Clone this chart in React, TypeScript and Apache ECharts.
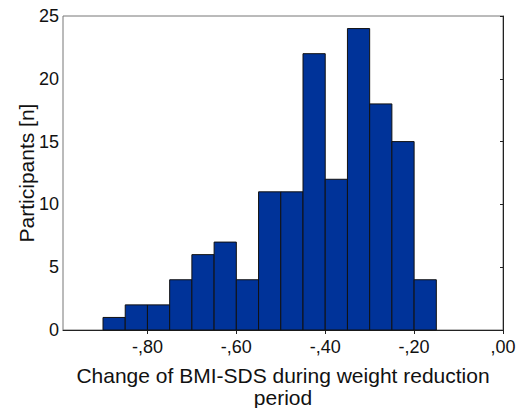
import React, { useEffect, useRef } from "react";
import * as echarts from "echarts";

const binStarts = [-0.9, -0.85, -0.8, -0.75, -0.7, -0.65, -0.6, -0.55, -0.5, -0.45, -0.4, -0.35, -0.3, -0.25, -0.2];
const binWidth = 0.05;
const counts = [1, 2, 2, 4, 6, 7, 4, 11, 11, 22, 12, 24, 18, 15, 4];
const xTickValues = [-0.8, -0.6, -0.4, -0.2, 0];

const fmt = (v: number) => {
  const s = Math.abs(v).toFixed(2).replace("0.", ",");
  return v < -1e-9 ? "-" + s : s;
};

export default function App() {
  const ref = useRef<HTMLDivElement>(null);
  useEffect(() => {
    if (!ref.current) return;
    document.body.style.margin = "0";
    const chart = echarts.init(ref.current, null, { renderer: "svg" });
    const data = binStarts.map((s, i) => [s, s + binWidth, counts[i]]);
    const font = "'Liberation Sans', Arial, sans-serif";
    chart.setOption({
      animation: false,
      grid: {
        left: 63,
        right: 16,
        top: 16,
        bottom: 78,
        containLabel: false,
        outerBoundsMode: "none",
        show: true,
        borderColor: "#777",
        borderWidth: 1,
        backgroundColor: "transparent",
      },
      xAxis: {
        type: "value",
        min: -0.99,
        max: 0,
        name: "Change of BMI-SDS during weight reduction\nperiod",
        nameLocation: "middle",
        nameGap: 34,
        nameMoveOverlap: false,
        nameTextStyle: { fontFamily: font, fontSize: 21, color: "#111", lineHeight: 22 },
        axisLine: { show: true, onZero: false, lineStyle: { color: "#222", width: 1 } },
        axisTick: { show: true, customValues: xTickValues, length: 4, lineStyle: { color: "#222" } },
        axisLabel: {
          customValues: xTickValues,
          formatter: (v: number) => fmt(v),
          fontFamily: font,
          fontSize: 18,
          color: "#111",
          margin: 8,
        },
        splitLine: { show: false },
      },
      yAxis: {
        type: "value",
        min: 0,
        max: 25,
        interval: 5,
        name: "Participants [n]",
        nameLocation: "middle",
        nameGap: 26,
        nameMoveOverlap: false,
        nameTextStyle: { fontFamily: font, fontSize: 21, color: "#111" },
        axisLine: { show: true, lineStyle: { color: "#222", width: 1 } },
        axisTick: { show: true, length: 3, lineStyle: { color: "#222" } },
        axisLabel: { fontFamily: font, fontSize: 18, color: "#111", margin: 4 },
        splitLine: { show: false },
      },
      series: [
        {
          type: "custom",
          data,
          renderItem: (params: any, api: any) => {
            const p0 = api.coord([api.value(0), api.value(2)]);
            const p1 = api.coord([api.value(1), 0]);
            return {
              type: "rect",
              shape: { x: p0[0], y: p0[1], width: p1[0] - p0[0], height: p1[1] - p0[1] },
              style: { fill: "#003399", stroke: "#111", lineWidth: 1 },
            };
          },
          encode: { x: [0, 1], y: 2 },
        },
      ],
    });
    return () => chart.dispose();
  }, []);
  return <div ref={ref} style={{ width: 519, height: 408 }} />;
}
